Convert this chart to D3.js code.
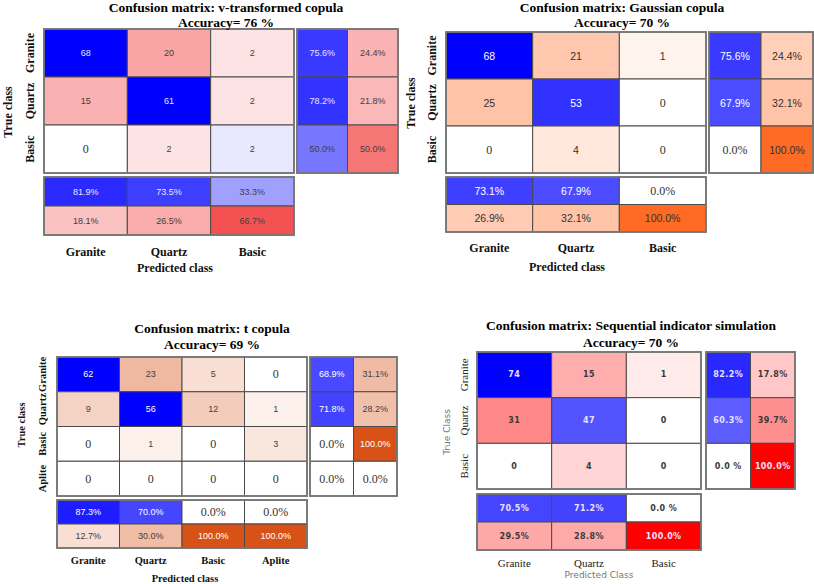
<!DOCTYPE html>
<html><head><meta charset="utf-8">
<script src="https://cdn.jsdelivr.net/npm/d3@7/dist/d3.min.js"></script>
<style>body{margin:0;background:#fff}svg{display:block}</style>
</head><body><svg id="c" width="814" height="584"></svg>
<script>
// ---------- data ----------
const classes3 = ["Granite", "Quartz", "Basic"];
const classes4 = ["Granite", "Quartz", "Basic", "Aplite"];
const titles = [
  "Confusion matrix: v-transformed copula",
  "Confusion matrix: Gaussian copula",
  "Confusion matrix: t copula",
  "Confusion matrix: Sequential indicator simulation"
];
const accuracies = [76, 70, 69, 70];

const vtCounts = [[68, 20, 2], [15, 61, 2], [0, 2, 2]];
const vtRowPct = [[75.6, 24.4], [78.2, 21.8], [50.0, 50.0]];
const vtColPct = [[81.9, 18.1], [73.5, 26.5], [33.3, 66.7]];

const gaCounts = [[68, 21, 1], [25, 53, 0], [0, 4, 0]];
const gaRowPct = [[75.6, 24.4], [67.9, 32.1], [0.0, 100.0]];
const gaColPct = [[73.1, 26.9], [67.9, 32.1], [0.0, 100.0]];

const tcCounts = [[62, 23, 5, 0], [9, 56, 12, 1], [0, 1, 0, 3], [0, 0, 0, 0]];
const tcRowPct = [[68.9, 31.1], [71.8, 28.2], [0.0, 100.0], [0.0, 0.0]];
const tcColPct = [[87.3, 12.7], [70.0, 30.0], [0.0, 100.0], [0.0, 100.0]];

const sisCounts = [[74, 15, 1], [31, 47, 0], [0, 4, 0]];
const sisRowPct = [[82.2, 17.8], [60.3, 39.7], [0.0, 100.0]];
const sisColPct = [[70.5, 29.5], [71.2, 28.8], [0.0, 100.0]];

// ---------- layout / style ----------
const SERIF = "'Liberation Serif','Times New Roman',serif";
const SANS = "'Liberation Sans',Arial,sans-serif";
const DJ = "'DejaVu Sans',sans-serif";

const panels = [
  { title: titles[0], acc: accuracies[0], classes: classes3, counts: vtCounts, rowPct: vtRowPct, colPct: vtColPct,
    geo: { x0: 44, x1: 294, y0: 29, y1: 173, rx0: 297, rx1: 398, by0: 177, by1: 235, tx: 226, ty1: 7, ty2: 22,
           rowLx: 30, trueX: 8, trueY: 112, colLy: 252, predX: 175, predY: 268 },
    st: { titleSize: 13.5, lblFont: SERIF, lblW: "bold", lblSize: 12, lblColor: "#111", axFont: SERIF, axW: "bold", axSize: 12, axColor: "#111",
          trueTxt: "True class", predTxt: "Predicted class",
          numFont: SANS, numW: "normal", numSize: 9, ls: 0, zeroSerif: true,
          diagSat: 22, errEnd: "#f01010", errK: 0.084, errPow: 0.8, light: "#e6e6ff", dark: "#404040" } },
  { title: titles[1], acc: accuracies[1], classes: classes3, counts: gaCounts, rowPct: gaRowPct, colPct: gaColPct,
    geo: { x0: 446, x1: 706, y0: 32, y1: 173, rx0: 709, rx1: 813, by0: 177, by1: 232, tx: 622, ty1: 7, ty2: 22,
           rowLx: 432, trueX: 411, trueY: 103, colLy: 248, predX: 567, predY: 267 },
    st: { titleSize: 13.5, lblFont: SERIF, lblW: "bold", lblSize: 12, lblColor: "#111", axFont: SERIF, axW: "bold", axSize: 12, axColor: "#111",
          trueTxt: "True class", predTxt: "Predicted class",
          numFont: SANS, numW: "normal", numSize: 10.5, ls: 0, zeroSerif: true,
          diagSat: 66, errEnd: "#ff6a25", errK: 0.081, errPow: 0.8, light: "#ffffff", dark: "#333333" } },
  { title: titles[2], acc: accuracies[2], classes: classes4, counts: tcCounts, rowPct: tcRowPct, colPct: tcColPct,
    geo: { x0: 57, x1: 307, y0: 357, y1: 496, rx0: 310, rx1: 397, by0: 500, by1: 548, tx: 212, ty1: 328, ty2: 344,
           rowLx: 42, trueX: 21, trueY: 425, colLy: 560, predX: 185, predY: 578 },
    st: { titleSize: 13.5, lblFont: SERIF, lblW: "bold", lblSize: 10.5, lblColor: "#111", axFont: SERIF, axW: "bold", axSize: 10.5, axColor: "#111",
          trueTxt: "True class", predTxt: "Predicted class",
          numFont: SANS, numW: "normal", numSize: 9, ls: 0, zeroSerif: true,
          diagSat: 56, errEnd: "#d85218", errK: 0.085, errPow: 0.8, light: "#ffffff", dark: "#404040" } },
  { title: titles[3], acc: accuracies[3], classes: classes3, counts: sisCounts, rowPct: sisRowPct, colPct: sisColPct,
    geo: { x0: 477, x1: 701, y0: 352, y1: 489, rx0: 706, rx1: 795, by0: 494, by1: 550, tx: 631, ty1: 325, ty2: 342,
           rowLx: 464, trueX: 447, trueY: 432, colLy: 563, predX: 599, predY: 575 },
    st: { titleSize: 13.5, lblFont: SERIF, lblW: "normal", lblSize: 11, lblColor: "#222", axFont: DJ, axW: "normal", axSize: 9, axColor: "#777",
          trueTxt: "True Class", predTxt: "Predicted Class",
          numFont: DJ, numW: "bold", numSize: 8, ls: 0.4, zeroSerif: false, zeroSpace: true,
          diagSat: 70, errEnd: "#ff0000", errK: 0.083, errPow: 0.88, light: "#e8e0ff", dark: "#3a3a3a" } }
];

const svg = d3.select("#c");

function drawPanel(p) {
  const G = p.geo, S = p.st;
  const g = svg.append("g");
  const x = d3.scaleBand().domain(p.classes).range([G.x0, G.x1]);
  const y = d3.scaleBand().domain(p.classes).range([G.y0, G.y1]);
  const kinds = ["correct", "error"];
  const rx = d3.scaleBand().domain(kinds).range([G.rx0, G.rx1]);
  const by = d3.scaleBand().domain(kinds).range([G.by0, G.by1]);

  const blueCount = d3.scaleLinear().domain([0, S.diagSat]).range([0, 1]).clamp(true);
  const errCount = d3.scaleSqrt().domain([0, Math.pow(1 / S.errK, 2)]).range([0, 1]).clamp(true);
  const bluePct = d3.scalePow().exponent(0.9).domain([0, 100]).range([0, 1]).clamp(true);
  const errPct = d3.scalePow().exponent(S.errPow).domain([0, 100]).range([0, 1]).clamp(true);
  const blueI = d3.interpolateRgb("#ffffff", "#0000ff");
  const errI = d3.interpolateRgb("#ffffff", S.errEnd);

  const cells = [];
  p.counts.forEach((row, i) => row.forEach((v, j) => {
    const fill = v === 0 ? "#ffffff" : (i === j ? blueI(blueCount(v)) : errI(errCount(v)));
    cells.push({ x: x(p.classes[j]), y: y(p.classes[i]), w: x.bandwidth(), h: y.bandwidth(), v, label: String(v), fill });
  }));
  const pctLabel = v => (v === 0 && S.zeroSpace) ? "0.0 %" : v.toFixed(1) + "%";
  p.rowPct.forEach((row, i) => row.forEach((v, k) => {
    const fill = v === 0 ? "#ffffff" : (k === 0 ? blueI(bluePct(v)) : errI(errPct(v)));
    cells.push({ x: rx(kinds[k]), y: y(p.classes[i]), w: rx.bandwidth(), h: y.bandwidth(), v, label: pctLabel(v), fill });
  }));
  p.colPct.forEach((col, j) => col.forEach((v, k) => {
    const fill = v === 0 ? "#ffffff" : (k === 0 ? blueI(bluePct(v)) : errI(errPct(v)));
    cells.push({ x: x(p.classes[j]), y: by(kinds[k]), w: x.bandwidth(), h: by.bandwidth(), v, label: pctLabel(v), fill });
  }));

  g.selectAll("rect.cell").data(cells).join("rect").attr("class", "cell")
    .attr("x", d => d.x).attr("y", d => d.y).attr("width", d => d.w).attr("height", d => d.h)
    .attr("fill", d => d.fill).attr("stroke", "#4a4a4a").attr("stroke-width", 1);

  // outer frames
  const frames = [
    [G.x0, G.y0, G.x1 - G.x0, G.y1 - G.y0],
    [G.rx0, G.y0, G.rx1 - G.rx0, G.y1 - G.y0],
    [G.x0, G.by0, G.x1 - G.x0, G.by1 - G.by0]
  ];
  g.selectAll("rect.frame").data(frames).join("rect").attr("class", "frame")
    .attr("x", d => d[0]).attr("y", d => d[1]).attr("width", d => d[2]).attr("height", d => d[3])
    .attr("fill", "none").attr("stroke", "#777").attr("stroke-width", 1.8);

  g.selectAll("text.num").data(cells).join("text").attr("class", "num")
    .attr("x", d => d.x + d.w / 2).attr("y", d => d.y + d.h / 2)
    .attr("text-anchor", "middle").attr("dominant-baseline", "central")
    .each(function (d) {
      const t = d3.select(this);
      if (d.v === 0 && S.zeroSerif) {
        t.attr("font-family", SERIF).attr("font-size", 12).attr("fill", "#333");
      } else {
        const dark = d3.lab(d.fill).l >= 55;
        t.attr("font-family", S.numFont).attr("font-size", S.numSize).attr("font-weight", S.numW)
          .attr("letter-spacing", S.ls).attr("fill", dark ? S.dark : S.light);
      }
    })
    .text(d => d.label);

  // titles
  g.append("text").attr("x", G.tx).attr("y", G.ty1).attr("text-anchor", "middle").attr("dominant-baseline", "central")
    .attr("font-family", SERIF).attr("font-weight", "bold").attr("font-size", S.titleSize).attr("fill", "#000").text(p.title);
  g.append("text").attr("x", G.tx).attr("y", G.ty2).attr("text-anchor", "middle").attr("dominant-baseline", "central")
    .attr("font-family", SERIF).attr("font-weight", "bold").attr("font-size", S.titleSize).attr("fill", "#000").text("Accuracy= " + p.acc + " %");

  // row labels
  g.selectAll("text.rowl").data(p.classes).join("text").attr("class", "rowl")
    .attr("transform", d => `translate(${G.rowLx},${y(d) + y.bandwidth() / 2}) rotate(-90)`)
    .attr("text-anchor", "middle").attr("dominant-baseline", "central")
    .attr("font-family", S.lblFont).attr("font-weight", S.lblW).attr("font-size", S.lblSize).attr("fill", S.lblColor)
    .text(d => d);
  // column labels
  g.selectAll("text.coll").data(p.classes).join("text").attr("class", "coll")
    .attr("x", d => x(d) + x.bandwidth() / 2).attr("y", G.colLy)
    .attr("text-anchor", "middle").attr("dominant-baseline", "central")
    .attr("font-family", S.lblFont).attr("font-weight", S.lblW).attr("font-size", S.lblSize).attr("fill", S.lblColor)
    .text(d => d);
  // axis titles
  g.append("text").attr("transform", `translate(${G.trueX},${G.trueY}) rotate(-90)`)
    .attr("text-anchor", "middle").attr("dominant-baseline", "central")
    .attr("font-family", S.axFont).attr("font-weight", S.axW).attr("font-size", S.axSize).attr("fill", S.axColor)
    .text(S.trueTxt);
  g.append("text").attr("x", G.predX).attr("y", G.predY)
    .attr("text-anchor", "middle").attr("dominant-baseline", "central")
    .attr("font-family", S.axFont).attr("font-weight", S.axW).attr("font-size", S.axSize).attr("fill", S.axColor)
    .text(S.predTxt);
}

panels.forEach(drawPanel);
</script>
</body></html>
